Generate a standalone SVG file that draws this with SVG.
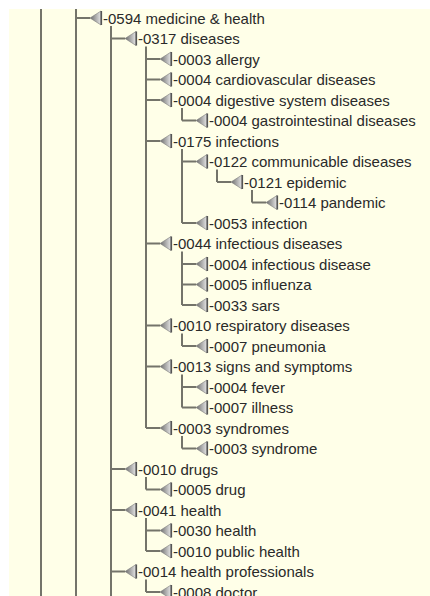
<svg xmlns="http://www.w3.org/2000/svg" xmlns:xlink="http://www.w3.org/1999/xlink" width="430" height="596" viewBox="0 0 430 596">
<style>
.ln{stroke:#74746a;stroke-width:2;fill:none}
.t{font-family:"Liberation Sans",Arial,sans-serif;font-size:15px;fill:#2a2a2a}
</style>
<defs>
<linearGradient id="g" x1="0" y1="0" x2="1" y2="0">
<stop offset="0" stop-color="#6a6a6a"/>
<stop offset="1" stop-color="#e6e6e6"/>
</linearGradient>
<g id="ic">
<polygon points="0,0 11,-7 11,7" fill="url(#g)" stroke="#7a7a7a" stroke-width="0.6"/>
<rect x="10.5" y="-7" width="1.6" height="14" fill="#555"/>
</g>
</defs>
<rect width="430" height="596" fill="#ffffff"/>
<rect x="9" y="9" width="421" height="587" fill="#ffffe8"/>
<g id="connectors" class="ln">
<path d="M41 9V596M76 9V596M111 26V596"/>
<path d="M146 46.5V428M146 477V489.5M146 518V551M146 579.5V592"/>
<path d="M182 108V120.5M182 149V223M182 251.5V305M182 333.5V346M182 374.5V407.5M182 436V448.5"/>
<path d="M217 169.5V182M252 190V202.5"/>
<path d="M76 18h14M111 38.5h14M146 59h14M146 79.5h14M146 100h14M182 120.5h14M146 141h14M182 161.5h14M217 182h14M252 202.5h14M182 223h14M146 243.5h14M182 264h14M182 284.5h14M182 305h14M146 325.5h14M182 346h14M146 366.5h14M182 387h14M182 407.5h14M146 428h14M182 448.5h14M111 469h14M146 489.5h14M111 510h14M146 530.5h14M146 551h14M111 571.5h14M146 592h14"/>
</g>
<g id="n0"><use xlink:href="#ic" x="90" y="18"/><text class="t" x="103" y="23.5">-0594 medicine &amp; health</text></g>
<g id="n1"><use xlink:href="#ic" x="125" y="38.5"/><text class="t" x="138" y="44">-0317 diseases</text></g>
<g id="n2"><use xlink:href="#ic" x="160" y="59"/><text class="t" x="173" y="64.5">-0003 allergy</text></g>
<g id="n3"><use xlink:href="#ic" x="160" y="79.5"/><text class="t" x="173" y="85">-0004 cardiovascular diseases</text></g>
<g id="n4"><use xlink:href="#ic" x="160" y="100"/><text class="t" x="173" y="105.5">-0004 digestive system diseases</text></g>
<g id="n5"><use xlink:href="#ic" x="196" y="120.5"/><text class="t" x="209" y="126">-0004 gastrointestinal diseases</text></g>
<g id="n6"><use xlink:href="#ic" x="160" y="141"/><text class="t" x="173" y="146.5">-0175 infections</text></g>
<g id="n7"><use xlink:href="#ic" x="196" y="161.5"/><text class="t" x="209" y="167">-0122 communicable diseases</text></g>
<g id="n8"><use xlink:href="#ic" x="231" y="182"/><text class="t" x="244" y="187.5">-0121 epidemic</text></g>
<g id="n9"><use xlink:href="#ic" x="266" y="202.5"/><text class="t" x="279" y="208">-0114 pandemic</text></g>
<g id="n10"><use xlink:href="#ic" x="196" y="223"/><text class="t" x="209" y="228.5">-0053 infection</text></g>
<g id="n11"><use xlink:href="#ic" x="160" y="243.5"/><text class="t" x="173" y="249">-0044 infectious diseases</text></g>
<g id="n12"><use xlink:href="#ic" x="196" y="264"/><text class="t" x="209" y="269.5">-0004 infectious disease</text></g>
<g id="n13"><use xlink:href="#ic" x="196" y="284.5"/><text class="t" x="209" y="290">-0005 influenza</text></g>
<g id="n14"><use xlink:href="#ic" x="196" y="305"/><text class="t" x="209" y="310.5">-0033 sars</text></g>
<g id="n15"><use xlink:href="#ic" x="160" y="325.5"/><text class="t" x="173" y="331">-0010 respiratory diseases</text></g>
<g id="n16"><use xlink:href="#ic" x="196" y="346"/><text class="t" x="209" y="351.5">-0007 pneumonia</text></g>
<g id="n17"><use xlink:href="#ic" x="160" y="366.5"/><text class="t" x="173" y="372">-0013 signs and symptoms</text></g>
<g id="n18"><use xlink:href="#ic" x="196" y="387"/><text class="t" x="209" y="392.5">-0004 fever</text></g>
<g id="n19"><use xlink:href="#ic" x="196" y="407.5"/><text class="t" x="209" y="413">-0007 illness</text></g>
<g id="n20"><use xlink:href="#ic" x="160" y="428"/><text class="t" x="173" y="433.5">-0003 syndromes</text></g>
<g id="n21"><use xlink:href="#ic" x="196" y="448.5"/><text class="t" x="209" y="454">-0003 syndrome</text></g>
<g id="n22"><use xlink:href="#ic" x="125" y="469"/><text class="t" x="138" y="474.5">-0010 drugs</text></g>
<g id="n23"><use xlink:href="#ic" x="160" y="489.5"/><text class="t" x="173" y="495">-0005 drug</text></g>
<g id="n24"><use xlink:href="#ic" x="125" y="510"/><text class="t" x="138" y="515.5">-0041 health</text></g>
<g id="n25"><use xlink:href="#ic" x="160" y="530.5"/><text class="t" x="173" y="536">-0030 health</text></g>
<g id="n26"><use xlink:href="#ic" x="160" y="551"/><text class="t" x="173" y="556.5">-0010 public health</text></g>
<g id="n27"><use xlink:href="#ic" x="125" y="571.5"/><text class="t" x="138" y="577">-0014 health professionals</text></g>
<g id="n28"><use xlink:href="#ic" x="160" y="592"/><text class="t" x="173" y="597.5">-0008 doctor</text></g>
</svg>
